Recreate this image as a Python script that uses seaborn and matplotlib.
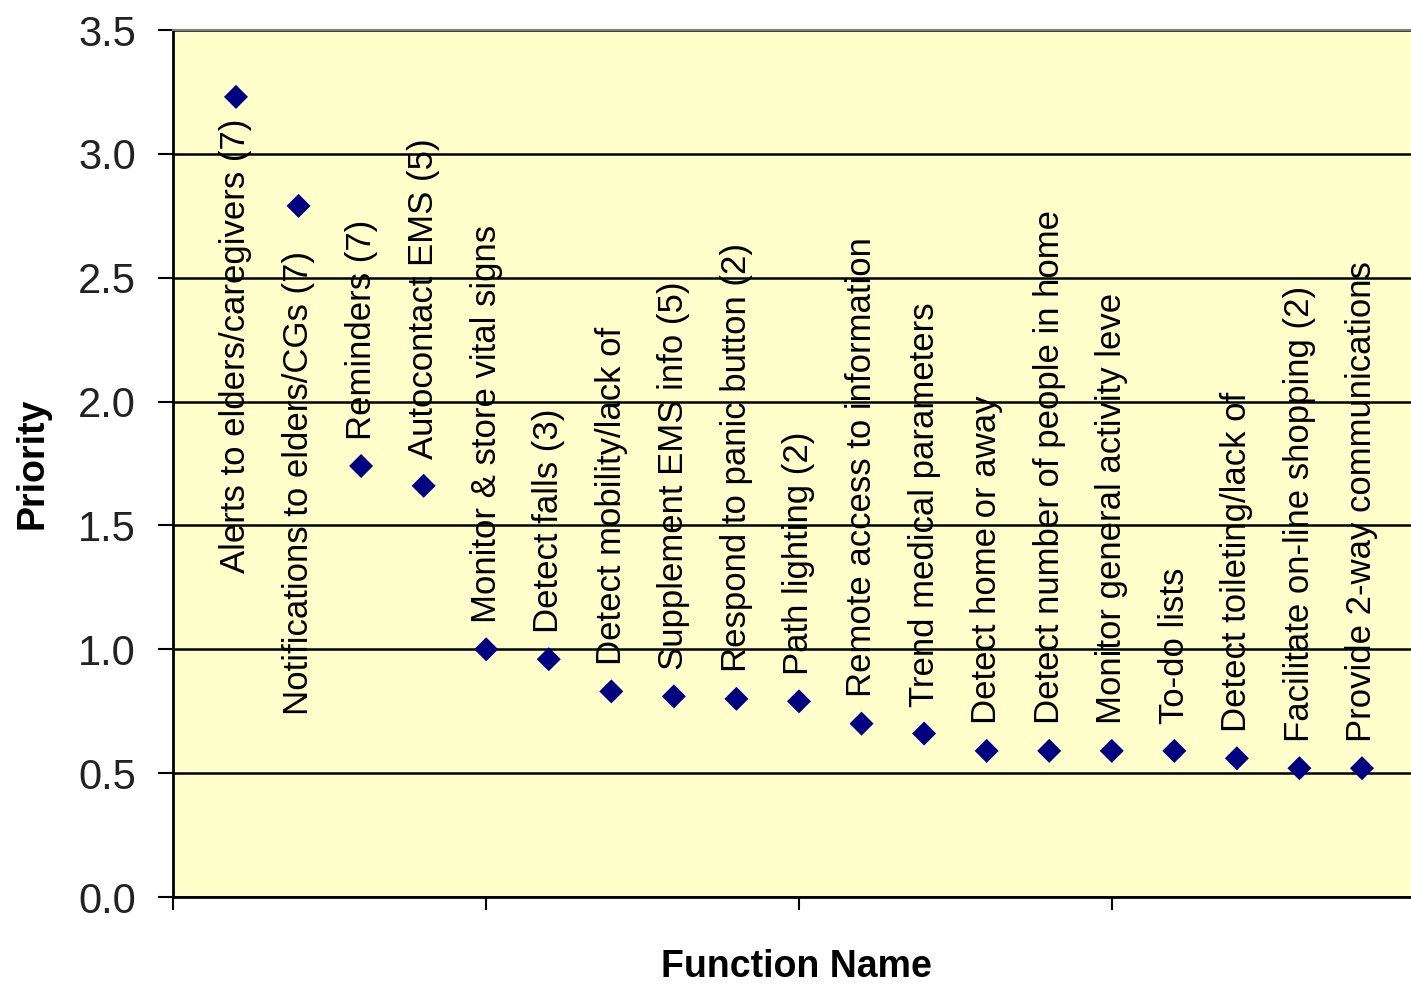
import matplotlib
matplotlib.use("Agg")
import matplotlib.pyplot as plt
import seaborn as sns
import pandas as pd

# ---- data ----
functions = [
    "Alerts to elders/caregivers (7)",
    "Notifications to elders/CGs (7)",
    "Reminders (7)",
    "Autocontact EMS (5)",
    "Monitor & store vital signs",
    "Detect falls (3)",
    "Detect mobility/lack of",
    "Supplement EMS info (5)",
    "Respond to panic button (2)",
    "Path lighting (2)",
    "Remote access to information",
    "Trend medical parameters",
    "Detect home or away",
    "Detect number of people in home",
    "Monitor general activity leve",
    "To-do lists",
    "Detect toileting/lack of",
    "Facilitate on-line shopping (2)",
    "Provide 2-way communications",
]
priority = [3.23, 2.79, 1.74, 1.66, 1.00, 0.96, 0.83, 0.81, 0.80, 0.79,
            0.70, 0.66, 0.59, 0.59, 0.59, 0.59, 0.56, 0.52, 0.52]
ytick_values = [0.0, 0.5, 1.0, 1.5, 2.0, 2.5, 3.0, 3.5]
ytick_labels = ["0.0", "0.5", "1.0", "1.5", "2.0", "2.5", "3.0", "3.5"]

# ---- layout (label placement overrides for labels that don't fit above) ----
label_bottom_override = {0: 1.31, 1: 0.735}

sns.set_theme(style="white")
plt.rcParams['font.family'] = ['Liberation Sans', 'DejaVu Sans']

fig = plt.figure(figsize=(14.11, 9.84), dpi=100)
fig.patch.set_facecolor('white')
ax = fig.add_axes([0.1229, 0.0884, 0.8867, 0.8811])
ax.set_facecolor('#FFFFCC')

df = pd.DataFrame({'idx': list(range(1, len(functions) + 1)),
                   'Priority': priority,
                   'Function': functions})

sns.scatterplot(data=df, x='idx', y='Priority', marker='D', s=150,
                color='#000080', edgecolor='none', linewidth=0,
                ax=ax, zorder=3, legend=False)

ax.set_xlim(0, 20)
ax.set_ylim(0, 3.5)
ax.set_yticks(ytick_values)
ax.set_yticklabels(ytick_labels)
ax.set_xticks([0, 5, 10, 15, 20])
ax.set_xticklabels([])

ax.grid(axis='y', color='black', linewidth=1.8)
ax.grid(axis='x', visible=False)
ax.set_axisbelow(True)

ax.tick_params(axis='y', direction='out', length=11, width=1.5, color='black',
               labelsize=30, labelcolor='#222222', pad=16, left=True)
ax.tick_params(axis='x', direction='out', length=9, width=1.5, color='black',
               bottom=True)

for side in ['left', 'bottom']:
    ax.spines[side].set_color('black')
    ax.spines[side].set_linewidth(2)
ax.spines['top'].set_color('#808080')
ax.spines['top'].set_linewidth(1.5)
ax.spines['right'].set_color('#808080')

for i, (x, y, name) in enumerate(zip(df['idx'], df['Priority'], df['Function'])):
    if i in label_bottom_override:
        ax.text(x, label_bottom_override[i], name, rotation=90, ha='center',
                va='bottom', fontsize=25, color='black', zorder=4)
    else:
        ax.annotate(name, xy=(x, y), xytext=(0, 19), textcoords='offset points',
                    rotation=90, ha='center', va='bottom', fontsize=25,
                    color='black', zorder=4)

ax.set_ylabel("Priority", fontsize=27, fontweight='bold', color='black', va='center')
ax.yaxis.set_label_coords(-0.1127, 0.5)
ax.set_xlabel("Function Name", fontsize=27, fontweight='bold', color='black', va='center')
ax.xaxis.set_label_coords(0.498, -0.0807)

fig.savefig("out.png", dpi=100, facecolor='white')
